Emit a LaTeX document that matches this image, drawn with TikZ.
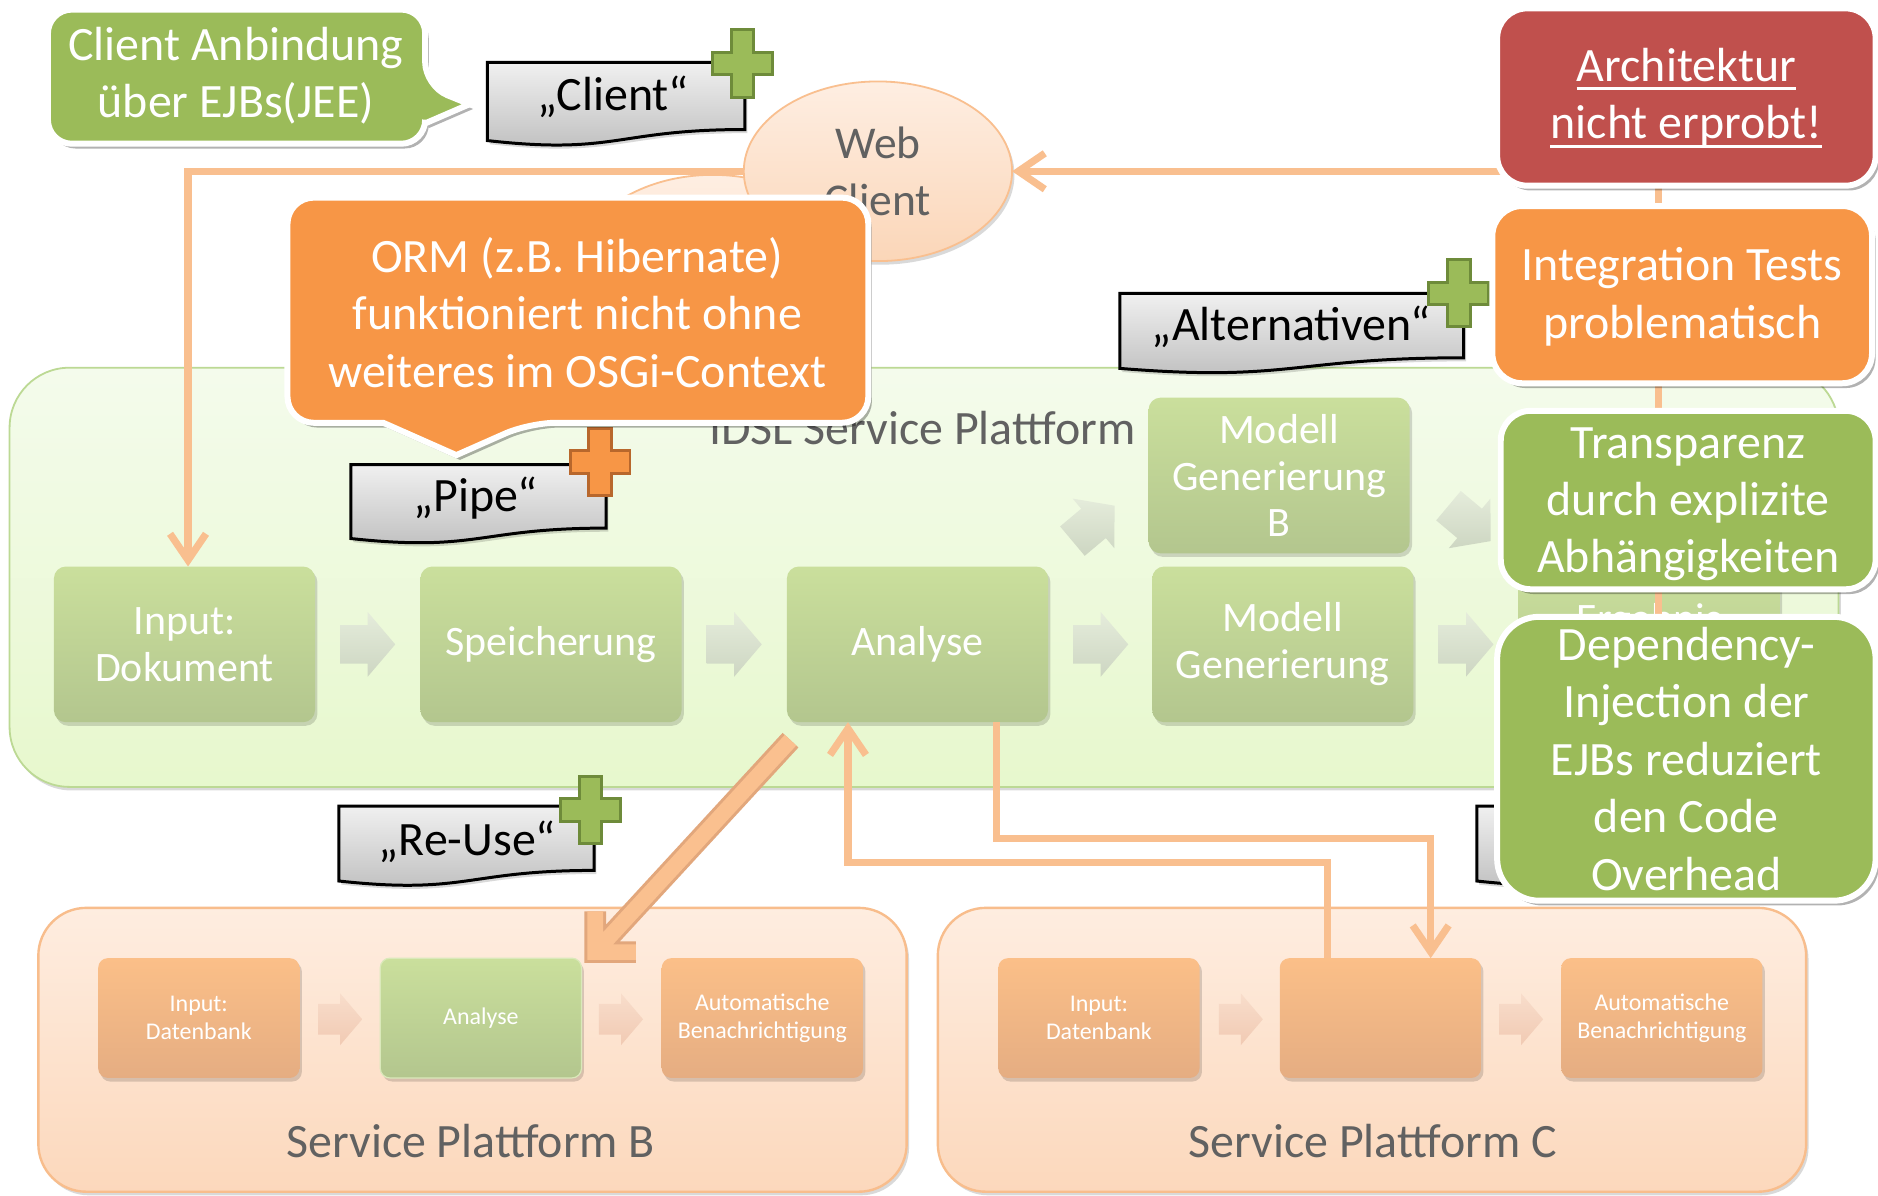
\documentclass[tikz,border=0pt]{standalone}
\usepackage{fontspec}
\setmainfont{Carlito}
\usetikzlibrary{shapes.geometric,shadows,arrows.meta}

\definecolor{noteGreen}{HTML}{9BBB59}
\definecolor{noteOrange}{HTML}{F79646}
\definecolor{noteRed}{HTML}{C0504D}
\definecolor{linkPeach}{HTML}{F9BF8F}
\definecolor{plusGreenEdge}{HTML}{6E8B3A}
\definecolor{plusOrangeEdge}{HTML}{B8672C}
\definecolor{titleGrey}{HTML}{616161}
\definecolor{stepTop}{HTML}{CADF9C}
\definecolor{stepBottom}{HTML}{B3C68E}
\definecolor{subTop}{HTML}{FBBF88}
\definecolor{subBottom}{HTML}{E5AD82}
\definecolor{idslTop}{HTML}{F4FBEC}
\definecolor{idslBottom}{HTML}{E7F8CD}
\definecolor{idslEdge}{HTML}{BCD994}
\definecolor{platTop}{HTML}{FEEDE0}
\definecolor{platBottom}{HTML}{FCD8BC}
\definecolor{platEdge}{HTML}{F8BD8C}
\definecolor{flowTop}{HTML}{E5ECDB}
\definecolor{flowBottom}{HTML}{CDD6C2}
\definecolor{subflowTop}{HTML}{F8DDCB}
\definecolor{subflowBottom}{HTML}{F1CAB3}
\definecolor{docTop}{HTML}{F0F0F0}
\definecolor{docBottom}{HTML}{BDBDBD}
\definecolor{clientTop}{HTML}{FEEEE2}
\definecolor{clientBottom}{HTML}{FBD6B8}
\definecolor{reuseEdge}{HTML}{E2A77C}
\definecolor{reuseFill}{HTML}{FAC08F}

% block arrow: x, y, angle, style
\newcommand\flowarrow[4]{%
  \path[shift={(#1,#2)}, rotate=#3, #4]
    (-23,-16) -- (0,-16) -- (0,-27) -- (23,0) -- (0,27) -- (0,16) -- (-23,16) -- cycle;}

% wavy document shape: left, top, width, height
\newcommand\wavedoc[4]{%
  \path[docshape, shift={(#1,#2)}]
    (0,0) -- (#3,0) -- (#3,{0.802*#4})
    .. controls ({0.5*#3},{0.802*#4}) and ({0.5*#3},{1.107*#4}) .. (0,{0.934*#4}) -- cycle;}

% plus sign: x, y, fill, edge
\newcommand\plusmark[4]{%
  \filldraw[fill=#3, draw=#4, line width=2.5, shift={(#1,#2)}]
    (-9.5,-28) -- (9.5,-28) -- (9.5,-9.5) -- (25,-9.5) -- (25,9.5) -- (9.5,9.5)
    -- (9.5,28) -- (-9.5,28) -- (-9.5,9.5) -- (-25,9.5) -- (-25,-9.5) -- (-9.5,-9.5) -- cycle;}

\tikzset{
  shadowed/.style={drop shadow={shadow xshift=3pt,shadow yshift=-4pt,opacity=.3,fill=black}},
  softshadow/.style={drop shadow={shadow xshift=2pt,shadow yshift=-3pt,opacity=.15,fill=black}},
  stepbox/.style={rectangle, rounded corners=10, top color=stepTop, bottom color=stepBottom,
    minimum width=218, minimum height=130, inner sep=0, outer sep=0, text=white, align=center,
    font={\fontsize{35}{39}\selectfont}, softshadow},
  steptext/.style={text=white, inner sep=0, font={\fontsize{35}{39}\selectfont}},
  subbox/.style={rectangle, rounded corners=8, top color=subTop, bottom color=subBottom,
    minimum width=168, minimum height=100, inner sep=0, outer sep=0, text=white, align=center,
    font={\fontsize{20}{23}\selectfont}, softshadow},
  subgreen/.style={subbox, top color=stepTop, bottom color=stepBottom, draw=stepTop!70!white, line width=1},
  platform/.style={rectangle, rounded corners=40, top color=platTop, bottom color=platBottom,
    draw=platEdge, line width=2, minimum width=725, minimum height=237, outer sep=0, softshadow},
  title/.style={text=titleGrey, inner sep=0, font={\fontsize{40}{48}\selectfont}},
  clientell/.style={ellipse, top color=clientTop, bottom color=clientBottom, draw=linkPeach,
    line width=1.5, inner sep=0, outer sep=0, align=center, text=titleGrey,
    font={\fontsize{38}{48}\selectfont}, softshadow},
  mainflow/.style={top color=flowTop, bottom color=flowBottom},
  subflow/.style={top color=subflowTop, bottom color=subflowBottom, scale=0.8},
  link/.style={draw=linkPeach, line width=6},
  arrowed/.style={-{Straight Barb[length=22pt,width=30pt]}},
  docshape/.style={top color=docTop, bottom color=docBottom, draw=black, line width=2.5, softshadow},
  doctext/.style={inner sep=0, font={\fontsize{40}{48}\selectfont}},
  calltext/.style={inner sep=0, text=white, align=center, font={\fontsize{40}{48}\selectfont}},
  callshape/.style={draw=white, line width=5, shadowed},
  note/.style={rectangle, rounded corners=25, draw=white, line width=5, text=white, align=center,
    inner sep=2pt, outer sep=0, font={\fontsize{40}{48}\selectfont}, shadowed},
  notetext/.style={inner sep=0, text=white, font={\fontsize{40}{48}\selectfont}},
  underline/.style={draw=white, line width=2.5},
  reuse outer/.style={draw=reuseEdge, line width=18, line join=miter, line cap=butt},
  reuse inner/.style={draw=reuseFill, line width=13, line join=miter, line cap=butt},
}

\begin{document}
\begin{tikzpicture}[x=1pt,y=-1pt]
\useasboundingbox (0,0) rectangle (1568,998);
\fill[white] (0,0) rectangle (1568,998);

% --- IDSL platform with its processing chain
\node[rectangle, rounded corners=50, top color=idslTop, bottom color=idslBottom, draw=idslEdge,
  line width=1.5, minimum width=1527, minimum height=350, outer sep=0, softshadow] (idsl) at (771.5,482) {};
\node[title] (idsltitle) at (770,357) {IDSL Service Plattform};

\node[stepbox] (result) at (1377,538) {};
\node[steptext, anchor=north] (resulttext) at (1377,504) {Ergebnis};
\node[stepbox] (input) at (154,538) {Input:\\Dokument};
\node[stepbox] (store) at (460,538) {Speicherung};
\node[stepbox] (analyse) at (766,538) {Analyse};
\node[stepbox] (model) at (1071,538) {Modell\\Generierung};
\node[stepbox] (modelb) at (1068,397) {Modell\\Generierung\\B};

\flowarrow{307}{538}{0}{mainflow}
\flowarrow{613}{538}{0}{mainflow}
\flowarrow{919}{538}{0}{mainflow}
\flowarrow{1224}{538}{0}{mainflow}
\flowarrow{913}{437}{40}{mainflow}
\flowarrow{1227}{437}{-40}{mainflow}

% --- service platforms B and C
\node[platform] (platb) at (394.5,876.5) {};
\node[platform] (platc) at (1145.5,876.5) {};
\node[title] (platbtitle) at (393,953) {Service Plattform B};
\node[title] (platctitle) at (1146,953) {Service Plattform C};

\node[subbox] (binput) at (166,850) {Input:\\Datenbank};
\node[subgreen] (banalyse) at (401.5,850) {Analyse};
\node[subbox] (bnotify) at (636.5,850) {Automatische\\Benachrichtigung};
\node[subbox] (cinput) at (917.5,850) {Input:\\Datenbank};
\node[subbox] (cmid) at (1152.5,850) {};
\node[subbox] (cnotify) at (1387.5,850) {Automatische\\Benachrichtigung};

\flowarrow{284}{851}{0}{subflow}
\flowarrow{518.5}{851}{0}{subflow}
\flowarrow{1036}{851}{0}{subflow}
\flowarrow{1270}{851}{0}{subflow}

% --- links between Analyse and platform C
\draw[link, arrowed] ([xshift=66]analyse.south) -- ++(0,97) -| ([xshift=42]cmid.north);
\draw[link, arrowed] ([xshift=-44]cmid.north) -- ++(0,-80) -| ([xshift=-58]analyse.south);

% --- clients
\node[clientell, minimum width=236, minimum height=172] (client2) at (595,232) {};
\node[clientell, minimum width=224, minimum height=150] (web) at (733,143) {Web\\Client};
\coordinate (railend) at (1385,520);
\draw[link, arrowed] (railend) |- (web.east);
\draw[link, arrowed] (web.west) -| ([xshift=3]input.north);

% --- keyword tags
\wavedoc{1233}{673}{213}{67}
\wavedoc{407}{52}{215}{70}
\node[doctext] (clienttag) at (512,81) {„Client“};
\plusmark{620}{53}{noteGreen}{plusGreenEdge}
\wavedoc{293}{388}{213}{66}
\node[doctext] (pipetag) at (397,416) {„Pipe“};
\plusmark{501}{386}{noteOrange}{plusOrangeEdge}
\wavedoc{935}{245}{287}{67}
\node[doctext] (alttag) at (1078,273) {„Alternativen“};
\plusmark{1218}{245}{noteGreen}{plusGreenEdge}
\wavedoc{283}{673}{213}{67}
\node[doctext] (reusetag) at (390,703) {„Re-Use“};
\plusmark{493}{676}{noteGreen}{plusGreenEdge}

% --- re-use arrow from Analyse into platform B
\coordinate (reusefrom) at ([shift={(3,15)}]analyse.south west);
\coordinate (reuseto) at ([shift={(11.5,-5)}]banalyse.north east);
\draw[reuse outer] (reusefrom) -- (reuseto) (reuseto) ++(0,-34) -- (reuseto) -- ++(34,0);
\draw[reuse inner] (reusefrom) -- (reuseto) (reuseto) ++(0,-34) -- (reuseto) -- ++(34,0);

% --- callouts
\path[callshape, fill=noteGreen] (200,8) [rounded corners=20] -- (355,8) -- (355,72)
  [sharp corners] -- (392,87) -- (355,103) [rounded corners=20] -- (355,120) -- (40,120) -- (40,8) -- cycle;
\node[calltext] (clientnote) at (197,63) {Client Anbindung\\über EJBs(JEE)};

\path[callshape, fill=noteOrange] (480,165) [rounded corners=22] -- (725,165) -- (725,353) -- (442,353)
  [sharp corners] -- (381,380) -- (320,353) [rounded corners=22] -- (240,353) -- (240,165) -- cycle;
\node[calltext] (ormnote) at (482,261) {ORM (z.B. Hibernate)\\funktioniert nicht ohne\\weiteres im OSGi-Context};

% --- assessment notes
\node[note, fill=noteRed, minimum width=316, minimum height=148] (arch) at (1408,81) {};
\node[notetext, anchor=base] (archline1) at (1408,68) {Architektur};
\node[notetext, anchor=base] (archline2) at (1408,116) {nicht erprobt!};
\draw[underline] ([yshift=-6pt]archline1.base west) -- ([yshift=-6pt]archline1.base east);
\draw[underline] ([yshift=-6pt]archline2.base west) -- ([yshift=-6pt]archline2.base east);
\node[note, fill=noteOrange, minimum width=317, minimum height=148] (itest) at (1404.5,246) {};
\node[calltext] (itesttext) at (1404.5,248) {Integration Tests\\problematisch};
\node[note, fill=noteGreen, minimum width=313, minimum height=149] (transp) at (1409.5,417.5) {};
\node[calltext] (transptext) at (1409.5,421) {Transparenz\\durch explizite\\Abhängigkeiten};
\node[note, fill=noteGreen, rounded corners=35, minimum width=316, minimum height=237] (depinj) at (1408,633.5)
  {Dependency-\\Injection der\\EJBs reduziert\\den Code\\Overhead};
\end{tikzpicture}
\end{document}
